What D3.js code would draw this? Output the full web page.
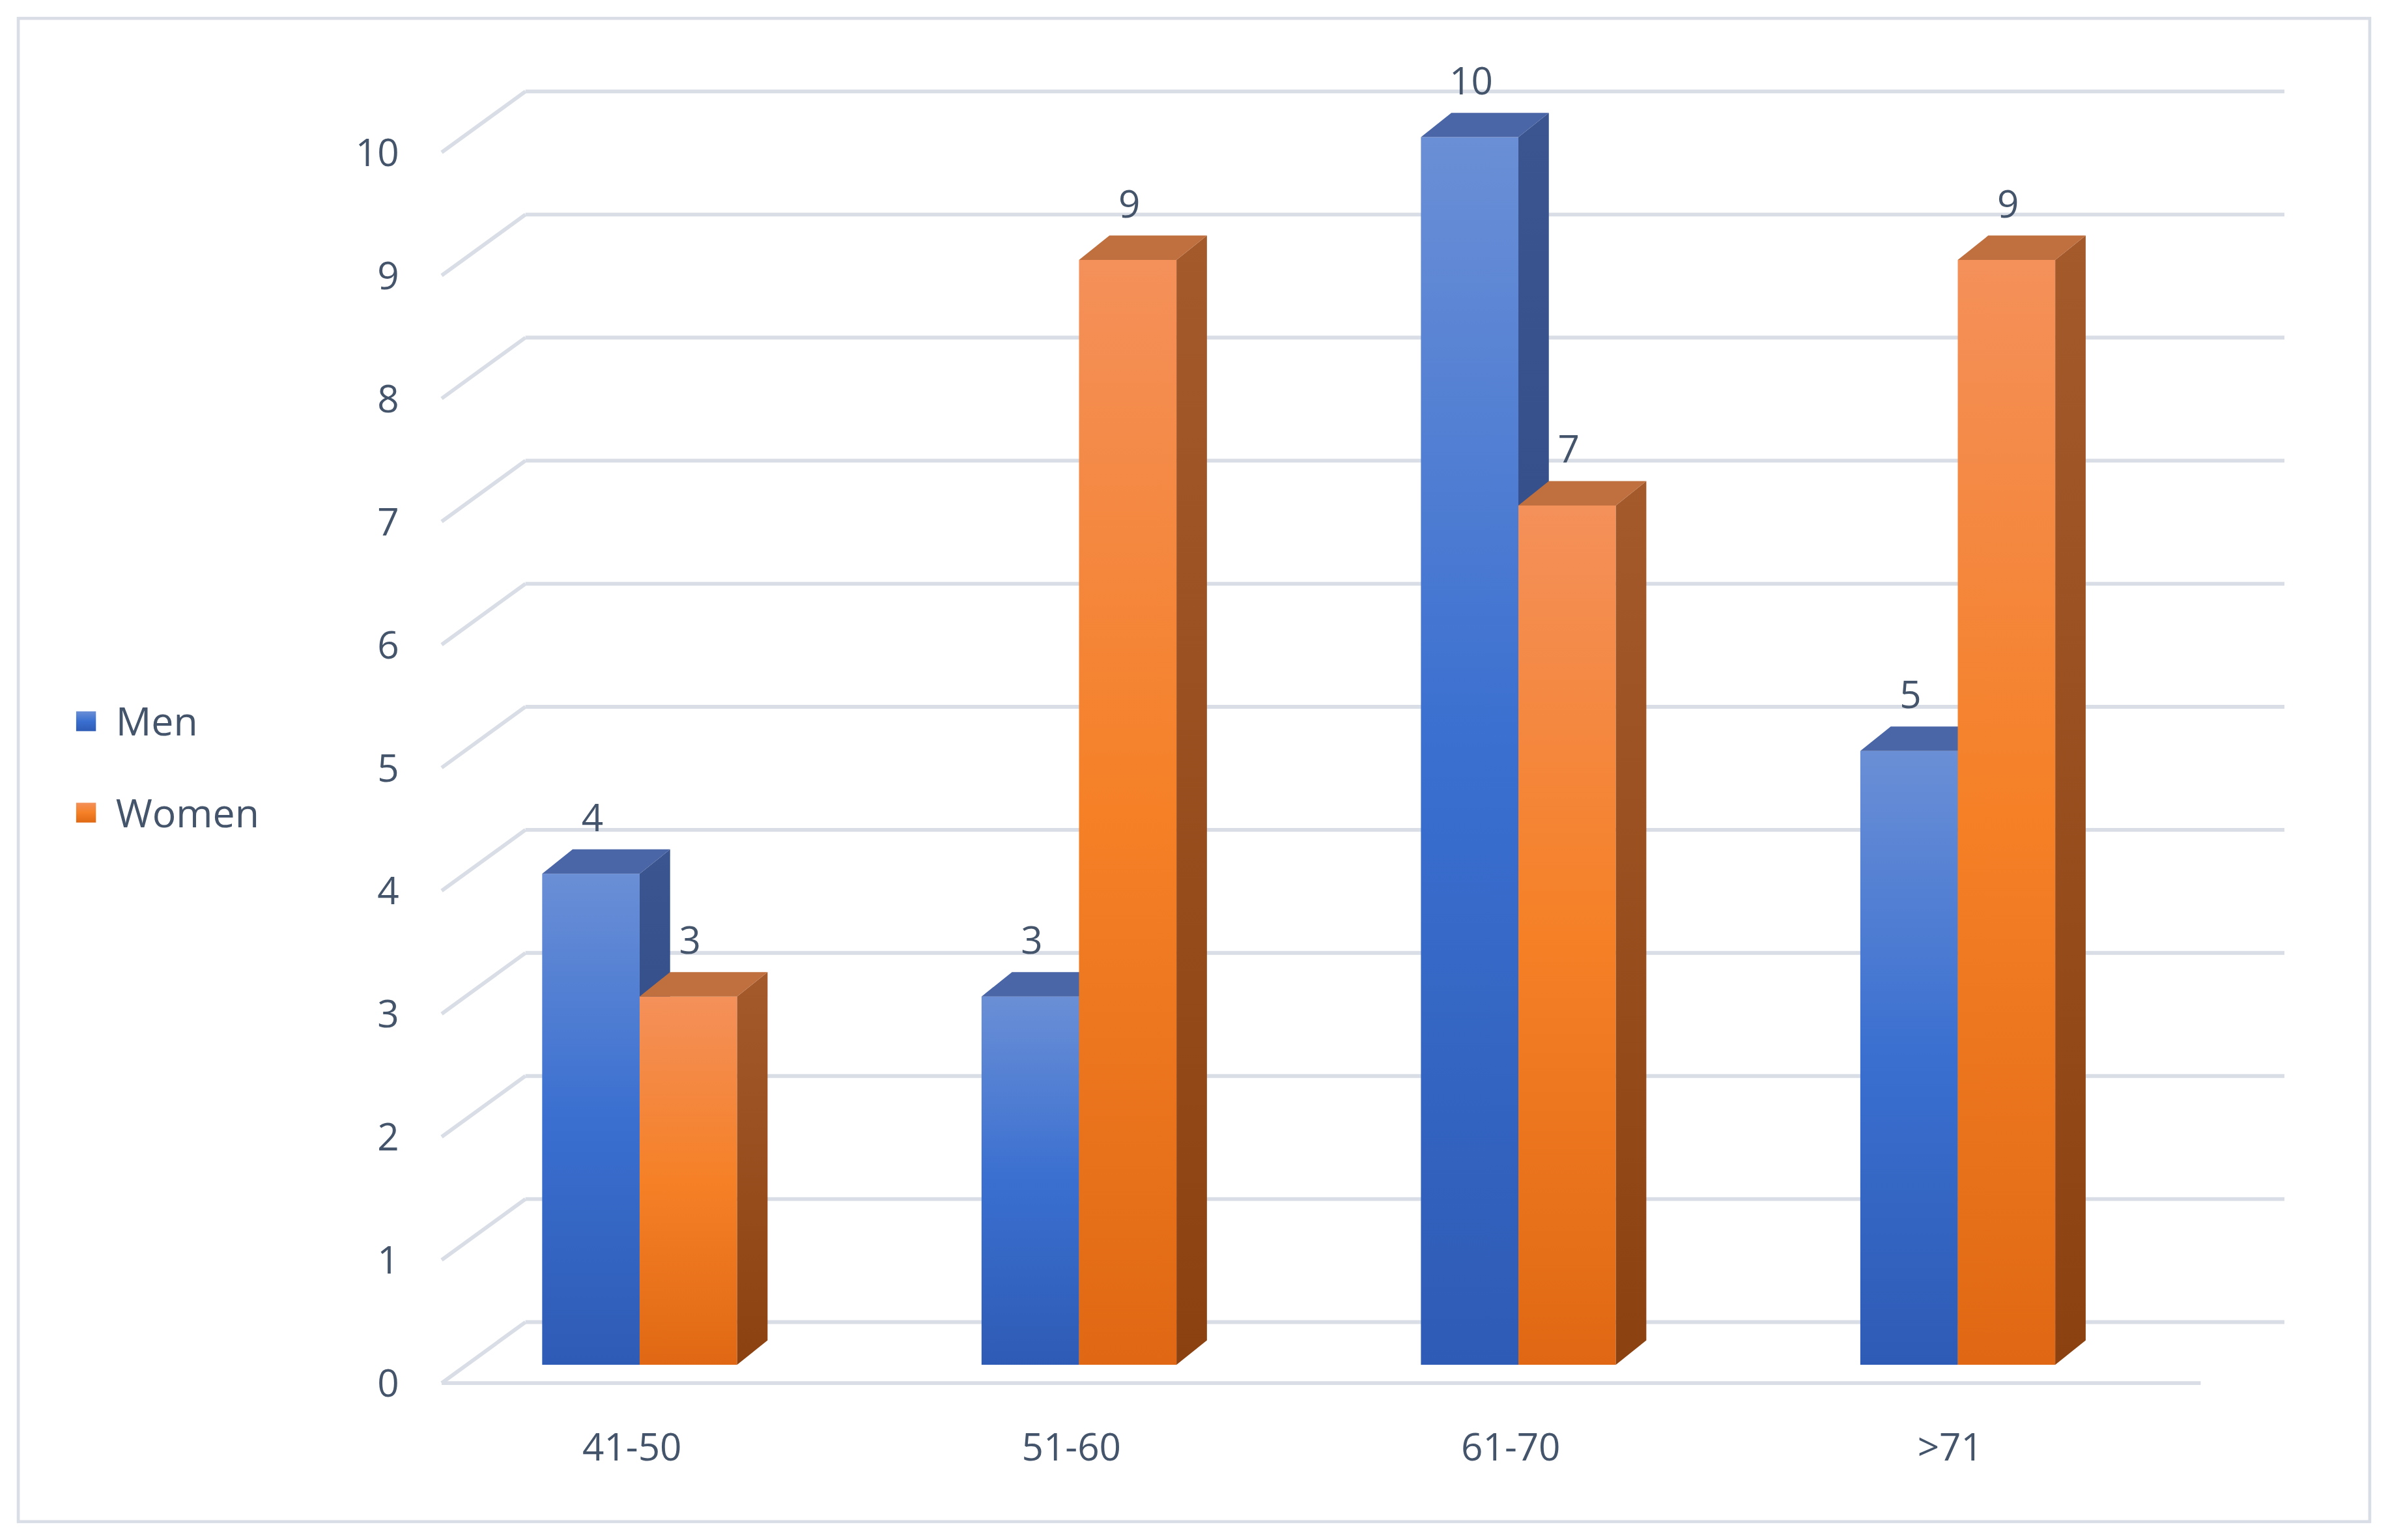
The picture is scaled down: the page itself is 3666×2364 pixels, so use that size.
<!DOCTYPE html>
<html><head><meta charset="utf-8">
<script src="https://cdn.jsdelivr.net/npm/d3@7"></script>
<style>body{margin:0;background:#fff}</style>
</head><body>
<svg id="chart"></svg>
<script>
const categories = ["41-50", "51-60", "61-70", ">71"]
const men = [4, 3, 10, 5]
const women = [3, 9, 7, 9]
const series = [{name: "Men", values: men}, {name: "Women", values: women}]
const ticks = [0, 1, 2, 3, 4, 5, 6, 7, 8, 9, 10]

const W = 1568, H = 1011
const svg = d3.select("#chart").attr("width", 3666).attr("height", 2364).attr("viewBox", `0 0 ${W} ${H}`)
const font = "'Open Sans', 'Liberation Sans', sans-serif"
const textColor = "#44546a"

svg.append("rect").attr("x", 12).attr("y", 12).attr("width", 1544).attr("height", 987)
    .attr("fill", "#fff").attr("stroke", "#d9dde6").attr("stroke-width", 2)

// depth of the 3D box
const dx = 55, dy = -40
const x0 = 290, x1 = 1445
const yFront = d3.scaleLinear().domain([0, 10]).range([908, 100])

// grid: back wall + left wall diagonals
const grid = svg.append("g").attr("stroke", "#d9dde6").attr("stroke-width", 2.5).attr("fill", "none")
ticks.forEach(t => {
  const y = yFront(t)
  grid.append("line").attr("x1", x0 + dx).attr("x2", x1 + dx).attr("y1", y + dy).attr("y2", y + dy)
  grid.append("line").attr("x1", x0).attr("x2", x0 + dx).attr("y1", y).attr("y2", y + dy)
})
grid.append("line").attr("x1", x0).attr("x2", x1).attr("y1", yFront(0)).attr("y2", yFront(0))

svg.append("g").selectAll("text").data(ticks).join("text")
    .attr("x", 262).attr("y", d => yFront(d) + 9).attr("text-anchor", "end")
    .attr("font-family", font).attr("font-size", 25).attr("fill", textColor).text(d => d)

// bars sit at mid-depth
const x = d3.scaleBand().domain(categories).range([300, 1565]).paddingInner(0).paddingOuter(0)
const barW = 64, bdx = 20, bdy = -16
const baseY = 896
const yBar = d3.scaleLinear().domain([0, 10]).range([baseY, 90])
const cx = d => 420 + categories.indexOf(d) * 288.5

const defs = svg.append("defs")
const palettes = {
  Men: {front: ["#6a8fd6", "#3a6fd0", "#2e5bb5"], side: ["#3a5590", "#2a4580"], top: "#4a66a6"},
  Women: {front: ["#f4905a", "#f58026", "#e06814"], side: ["#a55a2c", "#8c4210"], top: "#c0703e"}
}
Object.entries(palettes).forEach(([k, p]) => {
  const g = defs.append("linearGradient").attr("id", "f" + k).attr("x1", 0).attr("x2", 0).attr("y1", 0).attr("y2", 1)
  p.front.forEach((c, i) => g.append("stop").attr("offset", i / 2).attr("stop-color", c))
  const s = defs.append("linearGradient").attr("id", "s" + k).attr("x1", 0).attr("x2", 0).attr("y1", 0).attr("y2", 1)
  p.side.forEach((c, i) => s.append("stop").attr("offset", i).attr("stop-color", c))
})

const bars = svg.append("g")
series.forEach((s, si) => {
  const p = palettes[s.name]
  categories.forEach((c, i) => {
    const v = s.values[i]
    const left = cx(c) - barW + si * barW
    const top = yBar(v)
    const g = bars.append("g")
    g.append("rect").attr("x", left).attr("y", top).attr("width", barW).attr("height", baseY - top).attr("fill", `url(#f${s.name})`)
    g.append("path").attr("fill", `url(#s${s.name})`)
        .attr("d", `M${left + barW},${top}L${left + barW + bdx},${top + bdy}L${left + barW + bdx},${baseY + bdy}L${left + barW},${baseY}Z`)
    g.append("path").attr("fill", p.top)
        .attr("d", `M${left},${top}L${left + bdx},${top + bdy}L${left + barW + bdx},${top + bdy}L${left + barW},${top}Z`)
    g.append("text").attr("x", left + barW / 2 + 1).attr("y", top + bdy - 12).attr("text-anchor", "middle")
        .attr("font-family", font).attr("font-size", 25).attr("fill", textColor).text(v)
  })
})

svg.append("g").selectAll("text").data(categories).join("text")
    .attr("x", d => cx(d) - 5).attr("y", 959).attr("text-anchor", "middle")
    .attr("font-family", font).attr("font-size", 25).attr("fill", textColor).text(d => d)

const legend = svg.append("g")
series.forEach((s, i) => {
  const y = 474 + i * 60
  legend.append("rect").attr("x", 50).attr("y", y - 7).attr("width", 13).attr("height", 13).attr("fill", `url(#f${s.name})`)
  legend.append("text").attr("x", 76).attr("y", y + 9).attr("font-family", font).attr("font-size", 26)
      .attr("fill", textColor).text(s.name)
})
</script>
</body></html>
